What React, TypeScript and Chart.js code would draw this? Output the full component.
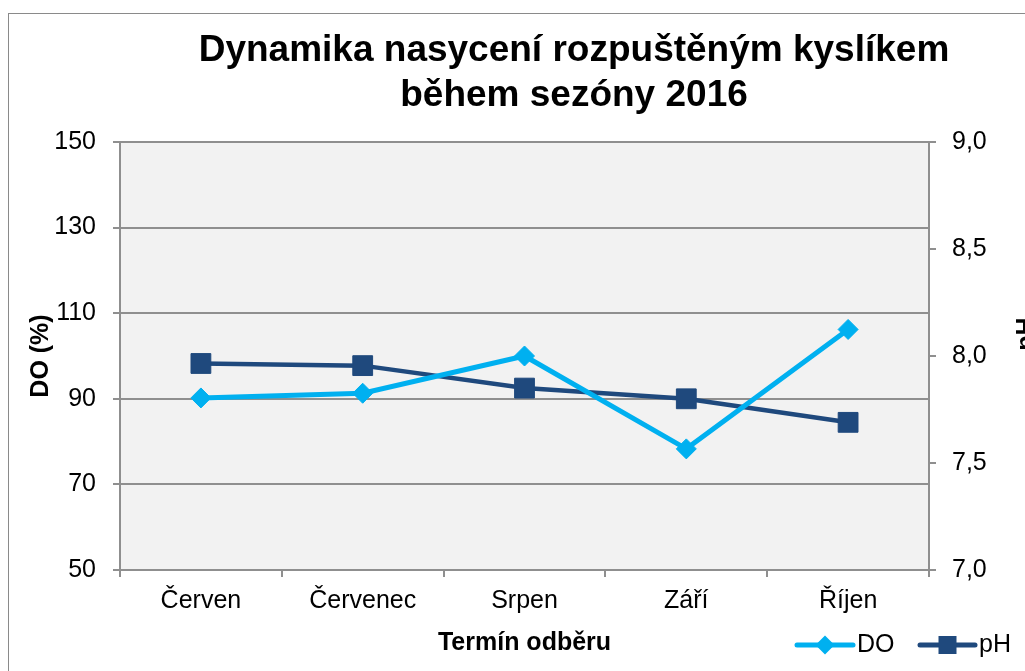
import React, { useEffect, useRef } from "react";
import { Chart, registerables } from "chart.js";

Chart.register(...registerables);

const categories = ["Červen", "Červenec", "Srpen", "Září", "Říjen"];
const doValues = [90.2, 91.3, 100.0, 78.3, 106.2];
const phValues = [7.965, 7.955, 7.85, 7.8, 7.69];
const titleLines = ["Dynamika nasycení rozpuštěným kyslíkem", "během sezóny 2016"];
const leftAxisTitle = "DO (%)";
const rightAxisTitle = "pH";
const xAxisTitle = "Termín odběru";

const FONT = "'Liberation Sans', Arial, sans-serif";
const DO_COLOR = "#00b0f0";
const PH_COLOR = "#1f497d";
const GRID = "#8f8f8f";

const decor = {
  id: "decor",
  beforeDraw(chart: any) {
    const { ctx, chartArea } = chart;
    ctx.save();
    ctx.fillStyle = "#ffffff";
    ctx.fillRect(0, 0, chart.width, chart.height);
    ctx.fillStyle = "#f2f2f2";
    ctx.fillRect(chartArea.left, chartArea.top, chartArea.right - chartArea.left, chartArea.bottom - chartArea.top);
    ctx.restore();
  },
  afterDraw(chart: any) {
    const { ctx } = chart;
    ctx.save();
    // outer frame
    ctx.strokeStyle = "#8a8a8a";
    ctx.lineWidth = 1;
    ctx.strokeRect(8.5, 13.5, 1100, 700);
    // title
    ctx.fillStyle = "#000";
    ctx.font = `bold 37px ${FONT}`;
    ctx.textAlign = "center";
    ctx.textBaseline = "alphabetic";
    ctx.fillText(titleLines[0], 574, 61);
    ctx.fillText(titleLines[1], 574, 106);
    // right axis title
    ctx.save();
    ctx.translate(1027, 334);
    ctx.rotate(-Math.PI / 2);
    ctx.font = `bold 25px ${FONT}`;
    ctx.textBaseline = "middle";
    ctx.fillText(rightAxisTitle, 0, 0);
    ctx.restore();
    // legend
    const y = 645;
    const items = [
      { ds: chart.data.datasets[0], x0: 797, x1: 853, label: "DO" },
      { ds: chart.data.datasets[1], x0: 920, x1: 975, label: "pH" },
    ];
    items.forEach((it) => {
      const cx = (it.x0 + it.x1) / 2;
      ctx.strokeStyle = it.ds.borderColor;
      ctx.lineWidth = 5;
      ctx.lineCap = "round";
      ctx.beginPath();
      ctx.moveTo(it.x0, y);
      ctx.lineTo(it.x1, y);
      ctx.stroke();
      ctx.fillStyle = it.ds.pointBackgroundColor;
      ctx.beginPath();
      if (it.ds.pointStyle === "rectRot") {
        const r = 9.5;
        ctx.moveTo(cx, y - r);
        ctx.lineTo(cx + r, y);
        ctx.lineTo(cx, y + r);
        ctx.lineTo(cx - r, y);
        ctx.closePath();
      } else {
        ctx.rect(cx - 9, y - 9, 18, 18);
      }
      ctx.fill();
      ctx.fillStyle = "#000";
      ctx.font = `25px ${FONT}`;
      ctx.textAlign = "left";
      ctx.textBaseline = "middle";
      ctx.fillText(it.label, it.x1 + 4, y);
    });
    ctx.restore();
  },
};

export default function App() {
  const ref = useRef<HTMLCanvasElement | null>(null);
  useEffect(() => {
    if (!ref.current) return;
    const chart = new Chart(ref.current, {
      type: "line",
      data: {
        labels: categories,
        datasets: [
          {
            label: "DO",
            data: doValues,
            yAxisID: "y",
            borderColor: DO_COLOR,
            backgroundColor: DO_COLOR,
            pointBackgroundColor: DO_COLOR,
            pointBorderColor: DO_COLOR,
            borderWidth: 5,
            pointStyle: "rectRot",
            pointRadius: 10,
            pointBorderWidth: 1,
            tension: 0,
          },
          {
            label: "pH",
            data: phValues,
            yAxisID: "y1",
            borderColor: PH_COLOR,
            backgroundColor: PH_COLOR,
            pointBackgroundColor: PH_COLOR,
            pointBorderColor: PH_COLOR,
            borderWidth: 4.5,
            pointStyle: "rect",
            pointRadius: 14,
            pointBorderWidth: 1,
            tension: 0,
          },
        ],
      },
      options: {
        animation: false,
        responsive: false,
        maintainAspectRatio: false,
        layout: { padding: { top: 142, left: 0, right: 0, bottom: 0 } },
        plugins: {
          legend: { display: false },
          title: { display: false },
          tooltip: { enabled: false },
        },
        scales: {
          x: {
            offset: true,
            grid: {
              offset: true,
              drawOnChartArea: false,
              drawTicks: true,
              tickLength: 7,
              color: GRID,
              lineWidth: 2,
            },
            border: { color: GRID, width: 2 },
            ticks: { color: "#000", font: { family: FONT, size: 25 }, padding: 9 },
            title: {
              display: true,
              text: xAxisTitle,
              color: "#000",
              font: { family: FONT, size: 25, weight: "bold" },
              padding: { top: 0, bottom: 13 },
            },
            afterFit: (s: any) => {
              s.height = 101;
            },
          },
          y: {
            position: "left",
            min: 50,
            max: 150,
            ticks: { stepSize: 20, color: "#000", font: { family: FONT, size: 25 }, padding: 17 },
            grid: { color: GRID, lineWidth: 2, tickLength: 7 },
            border: { color: GRID, width: 2 },
            title: {
              display: true,
              text: leftAxisTitle,
              color: "#000",
              font: { family: FONT, size: 25, weight: "bold" },
              padding: { top: 26, bottom: 0 },
            },
            afterFit: (s: any) => {
              s.width = 120;
            },
          },
          y1: {
            position: "right",
            min: 7,
            max: 9,
            ticks: {
              stepSize: 0.5,
              color: "#000",
              font: { family: FONT, size: 25 },
              padding: 16,
              callback: (v: any) => Number(v).toFixed(1).replace(".", ","),
            },
            grid: { drawOnChartArea: false, color: GRID, lineWidth: 2, tickLength: 7 },
            border: { color: GRID, width: 2 },
            afterFit: (s: any) => {
              s.width = 96;
            },
          },
        },
      },
      plugins: [decor],
    });
    return () => chart.destroy();
  }, []);
  return (
    <div style={{ position: "absolute", left: 0, top: 0, width: 1025, height: 671, overflow: "hidden" }}>
      <canvas ref={ref} width={1025} height={671} style={{ display: "block" }} />
    </div>
  );
}
